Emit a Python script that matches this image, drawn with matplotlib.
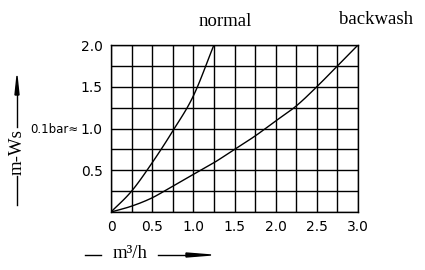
import numpy as np
import matplotlib
matplotlib.use('Agg')
import matplotlib.pyplot as plt

# flow (m3/h) vs pressure loss (m-Ws)
normal_q = [0, 0.25, 0.5, 0.75, 1.0, 1.25]
normal_p = [0, 0.25, 0.59, 0.97, 1.39, 2.0]
backwash_q = [0, 0.25, 0.5, 0.75, 1.0, 1.25, 1.5, 1.75, 2.0, 2.25, 2.5, 2.75, 3.0]
backwash_p = [0, 0.07, 0.17, 0.31, 0.45, 0.59, 0.75, 0.91, 1.09, 1.27, 1.5, 1.75, 2.0]
xticks = [0, 0.5, 1.0, 1.5, 2.0, 2.5, 3.0]
xlabels = ['0', '0.5', '1.0', '1.5', '2.0', '2.5', '3.0']
yticks = [0.5, 1.0, 1.5, 2.0]
ylabels = ['0.5', '1.0', '1.5', '2.0']

W, H = 425, 270
fig = plt.figure(figsize=(W / 100, H / 100), dpi=100)
ax = fig.add_axes([111 / W, 1 - 212 / H, 247 / W, 167 / H])

# Catmull-Rom through the read points so the curves look drawn, not kinked
def smooth(q, p, n=20):
    pts = np.column_stack([q, p]).astype(float)
    pts = np.vstack([2 * pts[0] - pts[1], pts, 2 * pts[-1] - pts[-2]])
    out = []
    t = np.linspace(0, 1, n, endpoint=False)[:, None]
    for i in range(1, len(pts) - 2):
        p0, p1, p2, p3 = pts[i - 1], pts[i], pts[i + 1], pts[i + 2]
        out.append(0.5 * ((2 * p1) + (-p0 + p2) * t
                          + (2 * p0 - 5 * p1 + 4 * p2 - p3) * t ** 2
                          + (-p0 + 3 * p1 - 3 * p2 + p3) * t ** 3))
    out.append(pts[-2][None, :])
    out = np.vstack(out)
    return out[:, 0], out[:, 1]

ax.plot(*smooth(normal_q, normal_p), color='black', lw=1.0)
ax.plot(*smooth(backwash_q, backwash_p), color='black', lw=1.0)

ax.set_xlim(0, 3.0)
ax.set_ylim(0, 2.0)
ax.set_xticks(np.arange(0, 3.01, 0.25), minor=True)
ax.set_yticks(np.arange(0, 2.01, 0.25), minor=True)
ax.set_xticks(xticks)
ax.set_xticklabels(xlabels)
ax.set_yticks(yticks)
ax.set_yticklabels(ylabels)
ax.grid(True, which='both', color='black', lw=1.0)
ax.tick_params(which='both', length=0, labelsize=10, pad=6)
for s in ax.spines.values():
    s.set_color('black')
    s.set_linewidth(1.0)

# annotations in pixel coords of the figure
def fx(px):
    return px / W

def fy(py):
    return 1 - py / H

serif = 'Liberation Serif'
fig.text(fx(225), fy(22), 'normal', ha='center', va='center', family=serif, fontsize=13.5)
fig.text(fx(376), fy(20), 'backwash', ha='center', va='center', family=serif, fontsize=13.5)
fig.text(fx(54), fy(130), '0.1bar≈', ha='center', va='center', fontsize=8.5)

# y axis label with arrow
fig.add_artist(plt.Line2D([fx(17), fx(17)], [fy(205), fy(176)], color='black', lw=1.0))
fig.text(fx(17), fy(152), 'm-Ws', rotation=90, ha='center', va='center', family=serif, fontsize=13.5)
fig.add_artist(plt.Line2D([fx(17), fx(17)], [fy(127), fy(90)], color='black', lw=1.0))
fig.patches.append(plt.Polygon([[fx(15), fy(95)], [fx(19), fy(95)], [fx(17), fy(76)]],
                               closed=True, color='black', transform=fig.transFigure, figure=fig))

# x axis label with arrow
fig.add_artist(plt.Line2D([fx(85), fx(101)], [fy(255), fy(255)], color='black', lw=1.0))
fig.text(fx(130), fy(253), 'm³/h', ha='center', va='center', family=serif, fontsize=13.5)
fig.add_artist(plt.Line2D([fx(158), fx(190)], [fy(255), fy(255)], color='black', lw=1.0))
fig.patches.append(plt.Polygon([[fx(186), fy(253)], [fx(186), fy(257)], [fx(211), fy(255)]],
                               closed=True, color='black', transform=fig.transFigure, figure=fig))

fig.savefig('out.png', dpi=100)
